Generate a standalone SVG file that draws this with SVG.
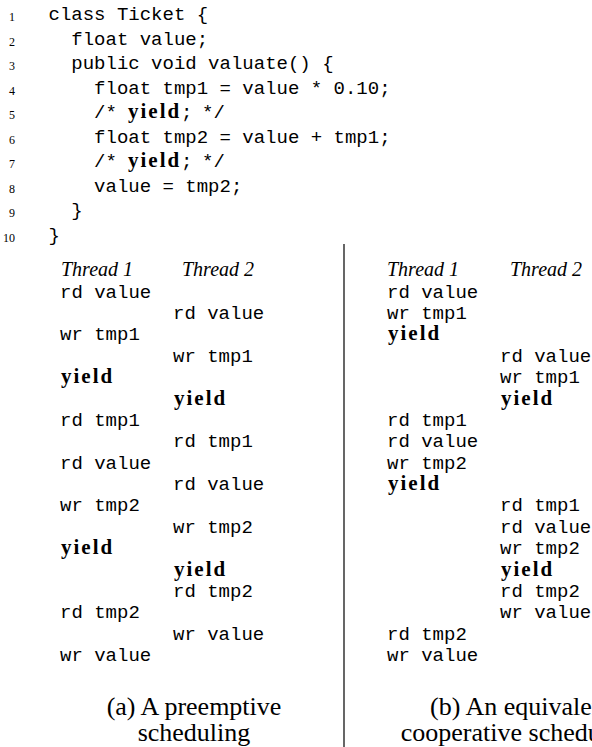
<svg xmlns="http://www.w3.org/2000/svg" width="592" height="747" viewBox="0 0 592 747">
<style>
.m{font-family:"Liberation Mono","DejaVu Sans Mono",monospace;font-size:19px;fill:#000}
.n{font-family:"Liberation Serif","Times New Roman",serif;font-size:12px;fill:#000;text-anchor:end}
.y{font-family:"Liberation Serif","Times New Roman",serif;font-size:21px;font-weight:bold;letter-spacing:2px;fill:#000}
.h{font-family:"Liberation Serif","Times New Roman",serif;font-size:20px;font-style:italic;fill:#000}
.c{font-family:"Liberation Serif","Times New Roman",serif;font-size:26px;fill:#000;text-anchor:middle}
</style>
<rect width="592" height="747" fill="#fff"/>
<g id="listing">
<text class="n" x="15" y="21">1</text>
<text class="n" x="15" y="45.5">2</text>
<text class="n" x="15" y="70">3</text>
<text class="n" x="15" y="94.5">4</text>
<text class="n" x="15" y="119">5</text>
<text class="n" x="15" y="143.5">6</text>
<text class="n" x="15" y="168">7</text>
<text class="n" x="15" y="192.5">8</text>
<text class="n" x="15" y="217">9</text>
<text class="n" x="15" y="241.5">10</text>
<text class="m" x="48.5" y="20">class Ticket {</text>
<text class="m" x="71.3" y="44.5">float value;</text>
<text class="m" x="71.3" y="69">public void valuate() {</text>
<text class="m" x="94.1" y="93.5">float tmp1 = value * 0.10;</text>
<text class="m" x="94.1" y="118">/*</text><text class="y" x="128" y="118">yield</text><text class="m" x="181" y="118">;</text><text class="m" x="202" y="118">*/</text>
<text class="m" x="94.1" y="142.5">float tmp2 = value + tmp1;</text>
<text class="m" x="94.1" y="167">/*</text><text class="y" x="128" y="167">yield</text><text class="m" x="181" y="167">;</text><text class="m" x="202" y="167">*/</text>
<text class="m" x="94.1" y="191.5">value = tmp2;</text>
<text class="m" x="71.3" y="216">}</text>
<text class="m" x="48.5" y="240.5">}</text>
</g>
<g id="divider">
<line x1="344" y1="244" x2="344" y2="747" stroke="#000" stroke-width="1.2"/>
</g>
<g id="schedule-a">
<text class="h" x="61" y="275.5">Thread 1</text>
<text class="h" x="182" y="275.5">Thread 2</text>
<text class="m" x="60" y="297.7">rd value</text>
<text class="m" x="173" y="319.1">rd value</text>
<text class="m" x="60" y="340.4">wr tmp1</text>
<text class="m" x="173" y="361.8">wr tmp1</text>
<text class="y" x="61" y="383.2">yield</text>
<text class="y" x="174" y="404.6">yield</text>
<text class="m" x="60" y="425.9">rd tmp1</text>
<text class="m" x="173" y="447.3">rd tmp1</text>
<text class="m" x="60" y="468.7">rd value</text>
<text class="m" x="173" y="490">rd value</text>
<text class="m" x="60" y="511.4">wr tmp2</text>
<text class="m" x="173" y="532.8">wr tmp2</text>
<text class="y" x="61" y="554.1">yield</text>
<text class="y" x="174" y="575.5">yield</text>
<text class="m" x="173" y="596.9">rd tmp2</text>
<text class="m" x="60" y="618.3">rd tmp2</text>
<text class="m" x="173" y="639.6">wr value</text>
<text class="m" x="60" y="661">wr value</text>
<text class="c" x="194" y="715">(a) A preemptive</text>
<text class="c" x="194" y="741">scheduling</text>
</g>
<g id="schedule-b">
<text class="h" x="387" y="275.5">Thread 1</text>
<text class="h" x="510" y="275.5">Thread 2</text>
<text class="m" x="387" y="297.7">rd value</text>
<text class="m" x="387" y="319.1">wr tmp1</text>
<text class="y" x="388" y="340.4">yield</text>
<text class="m" x="500" y="361.8">rd value</text>
<text class="m" x="500" y="383.2">wr tmp1</text>
<text class="y" x="501" y="404.6">yield</text>
<text class="m" x="387" y="425.9">rd tmp1</text>
<text class="m" x="387" y="447.3">rd value</text>
<text class="m" x="387" y="468.7">wr tmp2</text>
<text class="y" x="388" y="490">yield</text>
<text class="m" x="500" y="511.4">rd tmp1</text>
<text class="m" x="500" y="532.8">rd value</text>
<text class="m" x="500" y="554.1">wr tmp2</text>
<text class="y" x="501" y="575.5">yield</text>
<text class="m" x="500" y="596.9">rd tmp2</text>
<text class="m" x="500" y="618.3">wr value</text>
<text class="m" x="387" y="639.6">rd tmp2</text>
<text class="m" x="387" y="661">wr value</text>
<text class="c" x="521" y="715">(b) An equivalent</text>
<text class="c" x="521" y="741">cooperative scheduling</text>
</g>
</svg>
